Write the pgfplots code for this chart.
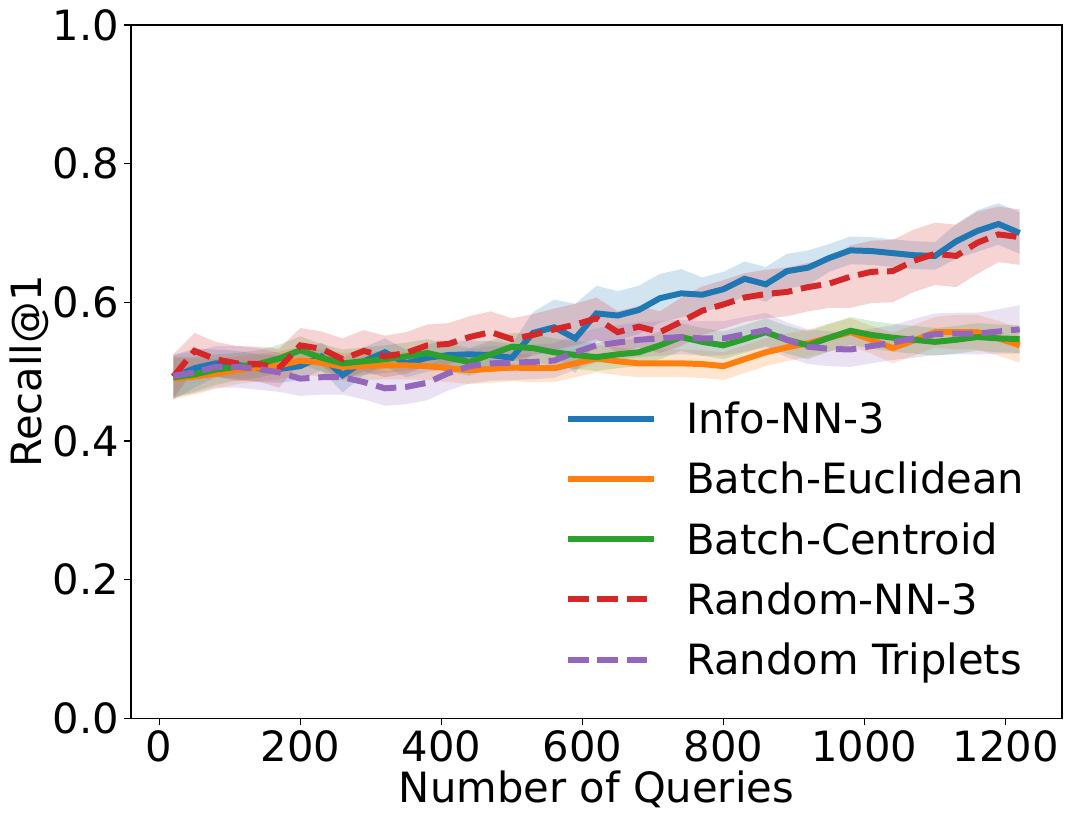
\documentclass[border=0pt]{standalone}
\usepackage{fontspec}
\setmainfont{DejaVu Sans}
\usepackage{pgfplots}
\pgfplotsset{compat=1.18}
\usepackage{pgfplotstable}
\usepgfplotslibrary{fillbetween}
\definecolor{c0}{HTML}{1F77B4}
\definecolor{c1}{HTML}{FF7F0E}
\definecolor{c2}{HTML}{2CA02C}
\definecolor{c3}{HTML}{D62728}
\definecolor{c4}{HTML}{9467BD}
\pgfplotstableread{
x bm bs rm rs gm gs om os pm ps
20 0.492 0.032 0.493 0.032 0.492 0.030 0.490 0.030 0.494 0.030
50 0.505 0.028 0.530 0.026 0.496 0.025 0.493 0.026 0.499 0.030
80 0.512 0.020 0.518 0.025 0.503 0.022 0.497 0.022 0.507 0.030
110 0.510 0.020 0.512 0.025 0.507 0.020 0.502 0.020 0.507 0.030
140 0.505 0.020 0.511 0.025 0.511 0.020 0.506 0.020 0.504 0.030
170 0.504 0.020 0.505 0.028 0.519 0.020 0.509 0.020 0.499 0.028
200 0.508 0.020 0.538 0.025 0.531 0.020 0.516 0.020 0.490 0.025
230 0.522 0.020 0.533 0.025 0.520 0.020 0.513 0.020 0.492 0.025
260 0.495 0.025 0.518 0.030 0.512 0.020 0.507 0.020 0.492 0.025
290 0.515 0.020 0.530 0.030 0.515 0.020 0.508 0.020 0.485 0.025
320 0.528 0.020 0.522 0.030 0.518 0.020 0.509 0.020 0.476 0.025
350 0.512 0.020 0.527 0.030 0.522 0.020 0.509 0.020 0.478 0.025
380 0.520 0.020 0.538 0.030 0.527 0.020 0.508 0.020 0.484 0.025
410 0.524 0.020 0.540 0.030 0.520 0.020 0.505 0.020 0.498 0.025
440 0.525 0.020 0.550 0.030 0.514 0.020 0.502 0.020 0.508 0.025
470 0.524 0.020 0.557 0.030 0.525 0.020 0.504 0.020 0.512 0.025
500 0.520 0.020 0.547 0.030 0.536 0.020 0.506 0.020 0.513 0.025
530 0.556 0.030 0.553 0.030 0.534 0.020 0.505 0.020 0.514 0.025
560 0.564 0.040 0.561 0.030 0.528 0.020 0.505 0.020 0.516 0.025
590 0.548 0.050 0.568 0.030 0.524 0.020 0.512 0.020 0.528 0.025
620 0.584 0.040 0.577 0.030 0.521 0.020 0.519 0.020 0.538 0.025
650 0.581 0.035 0.557 0.030 0.525 0.020 0.515 0.020 0.542 0.025
680 0.589 0.035 0.565 0.030 0.528 0.020 0.512 0.020 0.546 0.025
710 0.606 0.035 0.557 0.030 0.538 0.020 0.512 0.020 0.548 0.025
740 0.613 0.035 0.572 0.035 0.550 0.020 0.512 0.020 0.550 0.025
770 0.611 0.025 0.588 0.035 0.543 0.020 0.511 0.020 0.548 0.025
800 0.619 0.025 0.597 0.035 0.538 0.020 0.508 0.020 0.548 0.025
830 0.634 0.025 0.607 0.035 0.547 0.020 0.518 0.020 0.554 0.025
860 0.626 0.025 0.612 0.035 0.557 0.020 0.528 0.020 0.560 0.025
890 0.645 0.025 0.615 0.035 0.546 0.020 0.535 0.020 0.546 0.025
920 0.650 0.025 0.622 0.035 0.538 0.020 0.541 0.020 0.536 0.025
950 0.664 0.020 0.627 0.035 0.549 0.020 0.549 0.020 0.533 0.025
980 0.675 0.020 0.637 0.045 0.559 0.020 0.557 0.020 0.532 0.025
1010 0.674 0.020 0.644 0.045 0.553 0.020 0.546 0.020 0.537 0.025
1040 0.671 0.020 0.645 0.045 0.549 0.020 0.534 0.022 0.542 0.025
1070 0.668 0.020 0.660 0.045 0.546 0.020 0.545 0.022 0.548 0.028
1100 0.667 0.020 0.670 0.045 0.543 0.020 0.557 0.022 0.554 0.030
1130 0.688 0.025 0.667 0.045 0.546 0.020 0.557 0.025 0.555 0.030
1160 0.703 0.030 0.686 0.045 0.550 0.020 0.557 0.025 0.555 0.030
1190 0.713 0.030 0.698 0.040 0.548 0.020 0.548 0.025 0.558 0.032
1220 0.700 0.030 0.694 0.040 0.547 0.020 0.538 0.025 0.561 0.035
}\data
\newcommand{\band}[3]{%
  \addplot[draw=none, forget plot, name path=#1up] table[x=x, y expr=\thisrow{#2}+\thisrow{#3}] {\data};
  \addplot[draw=none, forget plot, name path=#1lo] table[x=x, y expr=\thisrow{#2}-\thisrow{#3}] {\data};
}
\begin{document}
\begin{tikzpicture}
\begin{axis}[
  name=ax,
  scale only axis,
  width=670pt, height=499pt,
  xmin=-40, xmax=1280, ymin=0, ymax=1,
  xtick={0,200,...,1200},
  ytick={0,0.2,0.4,0.6,0.8,1.0},
  /pgf/number format/assume math mode=true,
  /pgf/number format/1000 sep={},
  yticklabel style={/pgf/number format/fixed, /pgf/number format/fixed zerofill, /pgf/number format/precision=1},
  tick label style={font=\fontsize{30}{36}\selectfont},
  label style={font=\fontsize{30}{36}\selectfont},
  xlabel={Number of Queries},
  ylabel={Recall@1},
  ylabel shift=-4pt,
  tick align=outside,
  xtick pos=bottom, ytick pos=left,
  major tick length=5pt,
  every tick/.style={black, line width=0.8pt},
  axis line style={line width=0.8pt},
  legend style={draw=none, fill=none, font=\fontsize{30}{36}\selectfont,
    at={(rel axis cs:0.967,0.052)}, anchor=south east, row sep=15pt,
    /tikz/every odd column/.append style={column sep=19pt}},
  legend cell align=left,
  legend image code/.code={\draw[#1] (0pt,0pt) -- (62pt,0pt);},
]
\band{b}{bm}{bs}
\addplot[fill=c0, fill opacity=0.2, draw=none, forget plot] fill between[of=bup and blo];
\addplot[c0, line width=4.3pt] table[x=x, y=bm] {\data};
\addlegendentry{Info-NN-3}
\band{o}{om}{os}
\addplot[fill=c1, fill opacity=0.2, draw=none, forget plot] fill between[of=oup and olo];
\addplot[c1, line width=4.3pt] table[x=x, y=om] {\data};
\addlegendentry{Batch-Euclidean}
\band{g}{gm}{gs}
\addplot[fill=c2, fill opacity=0.2, draw=none, forget plot] fill between[of=gup and glo];
\addplot[c2, line width=4.3pt] table[x=x, y=gm] {\data};
\addlegendentry{Batch-Centroid}
\band{r}{rm}{rs}
\addplot[fill=c3, fill opacity=0.2, draw=none, forget plot] fill between[of=rup and rlo];
\addplot[c3, line width=4.3pt, dash pattern=on 14.8pt off 6.4pt] table[x=x, y=rm] {\data};
\addlegendentry{Random-NN-3}
\band{p}{pm}{ps}
\addplot[fill=c4, fill opacity=0.2, draw=none, forget plot] fill between[of=pup and plo];
\addplot[c4, line width=4.3pt, dash pattern=on 14.8pt off 6.4pt] table[x=x, y=pm] {\data};
\addlegendentry{Random Triplets}
\end{axis}
\pgfresetboundingbox
\path[use as bounding box] ([xshift=-94.3pt,yshift=-75.6pt]ax.south west) rectangle ([xshift=6.5pt,yshift=18pt]ax.north east);
\end{tikzpicture}
\end{document}
